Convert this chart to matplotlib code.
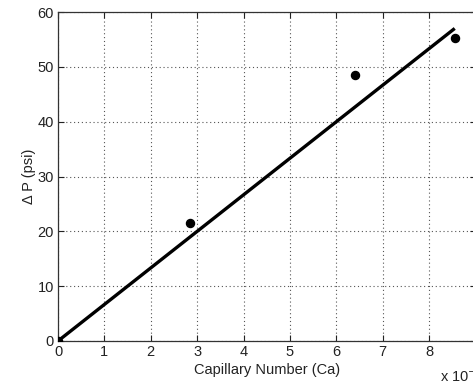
import matplotlib
matplotlib.use("Agg")
import matplotlib.pyplot as plt

plt.rcParams['font.family'] = ['Liberation Sans', 'DejaVu Sans']

ca = [0.0, 2.85, 6.4, 8.55]          # x 1e-7
dp = [0.0, 21.5, 48.5, 55.2]         # psi
fit_x = [0.0, 8.55]
fit_y = [0.0, 57.0]
xticks = list(range(0, 10))
xticklabels = ['0', '1', '2', '3', '4', '5', '6', '7', '8', '']
yticks = list(range(0, 70, 10))

fig = plt.figure(figsize=(4.73, 3.86), dpi=100)
ax = fig.add_axes([58/473, 45/386, (475.6-58)/473, (341-12)/386])
ax.plot(fit_x, fit_y, color='black', lw=2.4, solid_capstyle='butt', zorder=3)
ax.plot(ca, dp, 'o', color='black', ms=5.8, zorder=4)
ax.set_xlim(0, 9)
ax.set_ylim(0, 60)
ax.set_xticks(xticks)
ax.set_xticklabels(xticklabels)
ax.set_yticks(yticks)
ax.grid(True, linestyle=(0, (1, 2.5)), color='#555555', lw=0.8)
ax.tick_params(direction='in', length=4, width=0.8, labelsize=10.5, colors='#222222',
               top=True, right=True, pad=3)
for s in ax.spines.values():
    s.set_color('#333333')
    s.set_linewidth(0.9)
ax.set_xlabel('Capillary Number (Ca)', fontsize=10.5, color='#222222', labelpad=3)
ax.set_ylabel('Δ P (psi)', fontsize=10.5, color='#222222', labelpad=1)
fig.text(440/473, 1 - 382/386, r'x 10$^{-7}$', fontsize=10.5, color='#222222',
         ha='left', va='baseline')
fig.savefig('out.png', dpi=100)
